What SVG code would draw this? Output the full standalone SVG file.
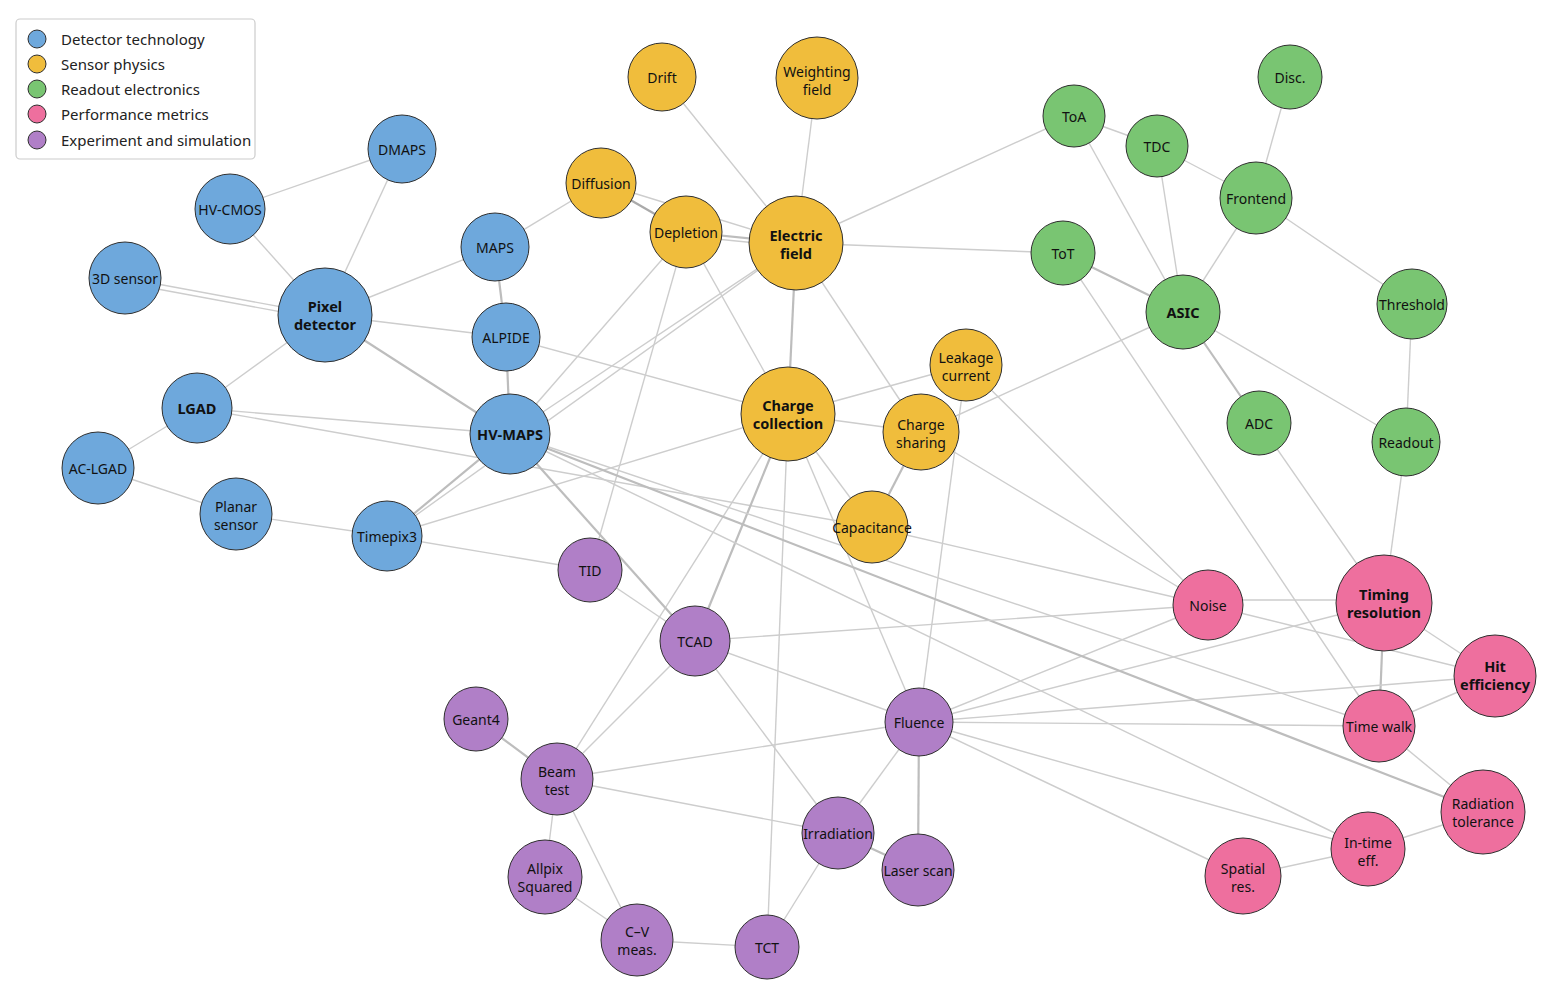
<svg xmlns="http://www.w3.org/2000/svg" width="1560" height="1008" viewBox="0 0 1560 1008">
<style>
.e{stroke:#cdcdcd;stroke-width:1.4;fill:none}
.s{stroke:#bdbdbd;stroke-width:2.2;fill:none}
.n{stroke:#2f2f2f;stroke-width:1}
.b{fill:#6ea8dc}.y{fill:#f0bd3c}.g{fill:#79c572}.p{fill:#ee6f9e}.v{fill:#b07fc7}
text{font-family:"Noto Sans","Open Sans","Liberation Sans",sans-serif;font-size:14px;fill:#111;text-anchor:middle;dominant-baseline:central}
.bo{font-weight:bold;font-size:14.5px}
.lg{font-size:15px;text-anchor:start;fill:#222}
</style>
<rect width="1560" height="1008" fill="#ffffff"/>
<g id="connectors">
<line class="e" x1="230" y1="209" x2="402" y2="149"/>
<line class="e" x1="230" y1="209" x2="325" y2="315"/>
<line class="e" x1="402" y1="149" x2="325" y2="315"/>
<line class="e" x1="125" y1="278" x2="325" y2="315"/>
<line class="e" x1="125" y1="283" x2="325" y2="320"/>
<line class="e" x1="325" y1="315" x2="495" y2="247"/>
<line class="e" x1="325" y1="315" x2="506" y2="337"/>
<line class="s" x1="325" y1="315" x2="510" y2="434"/>
<line class="e" x1="325" y1="315" x2="197" y2="408"/>
<line class="s" x1="495" y1="247" x2="506" y2="337"/>
<line class="s" x1="506" y1="337" x2="510" y2="434"/>
<line class="e" x1="495" y1="247" x2="601" y2="183"/>
<line class="e" x1="197" y1="408" x2="510" y2="434"/>
<line class="e" x1="197" y1="408" x2="98" y2="468"/>
<line class="e" x1="98" y1="468" x2="236" y2="514"/>
<line class="e" x1="236" y1="514" x2="387" y2="536"/>
<line class="s" x1="387" y1="536" x2="510" y2="434"/>
<line class="e" x1="387" y1="536" x2="788" y2="414"/>
<line class="e" x1="387" y1="536" x2="796" y2="243"/>
<line class="e" x1="387" y1="536" x2="590" y2="570"/>
<line class="e" x1="197" y1="408" x2="872" y2="527"/>
<line class="e" x1="662" y1="77" x2="796" y2="243"/>
<line class="e" x1="817" y1="78" x2="796" y2="243"/>
<line class="s" x1="601" y1="183" x2="686" y2="232" style="stroke:#aaa"/>
<line class="e" x1="601" y1="183" x2="796" y2="243"/>
<line class="s" x1="686" y1="232" x2="796" y2="243"/>
<line class="e" x1="686" y1="236" x2="796" y2="247"/>
<line class="e" x1="796" y1="243" x2="1074" y2="116"/>
<line class="e" x1="796" y1="243" x2="1063" y2="253"/>
<line class="s" x1="796" y1="243" x2="788" y2="414"/>
<line class="e" x1="796" y1="243" x2="921" y2="432"/>
<line class="e" x1="796" y1="243" x2="510" y2="434"/>
<line class="e" x1="686" y1="232" x2="510" y2="434"/>
<line class="e" x1="686" y1="232" x2="788" y2="414"/>
<line class="e" x1="686" y1="232" x2="590" y2="570"/>
<line class="e" x1="506" y1="337" x2="788" y2="414"/>
<line class="e" x1="788" y1="414" x2="966" y2="365"/>
<line class="e" x1="788" y1="414" x2="921" y2="432"/>
<line class="e" x1="788" y1="414" x2="872" y2="527"/>
<line class="s" x1="788" y1="414" x2="695" y2="641"/>
<line class="e" x1="788" y1="414" x2="557" y2="779"/>
<line class="e" x1="788" y1="414" x2="919" y2="722"/>
<line class="e" x1="788" y1="414" x2="767" y2="947"/>
<line class="s" x1="921" y1="432" x2="872" y2="527"/>
<line class="e" x1="921" y1="432" x2="1183" y2="312"/>
<line class="e" x1="921" y1="432" x2="1208" y2="605"/>
<line class="e" x1="966" y1="365" x2="1208" y2="605"/>
<line class="e" x1="966" y1="365" x2="919" y2="722"/>
<line class="e" x1="872" y1="527" x2="1208" y2="605"/>
<line class="e" x1="1074" y1="116" x2="1157" y2="146"/>
<line class="e" x1="1074" y1="116" x2="1183" y2="312"/>
<line class="e" x1="1157" y1="146" x2="1256" y2="198"/>
<line class="e" x1="1157" y1="146" x2="1183" y2="312"/>
<line class="e" x1="1290" y1="77" x2="1256" y2="198"/>
<line class="e" x1="1256" y1="198" x2="1183" y2="312"/>
<line class="e" x1="1256" y1="198" x2="1412" y2="304"/>
<line class="s" x1="1063" y1="253" x2="1183" y2="312"/>
<line class="e" x1="1063" y1="253" x2="1379" y2="726"/>
<line class="s" x1="1183" y1="312" x2="1259" y2="423"/>
<line class="e" x1="1183" y1="312" x2="1406" y2="442"/>
<line class="e" x1="1412" y1="304" x2="1406" y2="442"/>
<line class="e" x1="1406" y1="442" x2="1384" y2="603"/>
<line class="e" x1="1259" y1="423" x2="1384" y2="603"/>
<line class="e" x1="1208" y1="600" x2="1384" y2="600"/>
<line class="e" x1="1208" y1="605" x2="1495" y2="676"/>
<line class="s" x1="1384" y1="603" x2="1379" y2="726"/>
<line class="e" x1="1384" y1="603" x2="1495" y2="676"/>
<line class="e" x1="1379" y1="726" x2="1495" y2="676"/>
<line class="e" x1="1379" y1="726" x2="1483" y2="812"/>
<line class="e" x1="1483" y1="812" x2="1368" y2="849"/>
<line class="e" x1="1368" y1="849" x2="1243" y2="876"/>
<line class="e" x1="919" y1="722" x2="1379" y2="726"/>
<line class="e" x1="919" y1="722" x2="1495" y2="676"/>
<line class="e" x1="919" y1="722" x2="1384" y2="603"/>
<line class="e" x1="919" y1="722" x2="1208" y2="605"/>
<line class="e" x1="919" y1="722" x2="1368" y2="849"/>
<line class="e" x1="919" y1="722" x2="1243" y2="876"/>
<line class="e" x1="510" y1="434" x2="1368" y2="849"/>
<line class="e" x1="510" y1="434" x2="1379" y2="726"/>
<line class="s" x1="510" y1="434" x2="1483" y2="812"/>
<line class="s" x1="510" y1="434" x2="695" y2="641"/>
<line class="e" x1="695" y1="641" x2="590" y2="570"/>
<line class="e" x1="695" y1="641" x2="1208" y2="605"/>
<line class="e" x1="695" y1="641" x2="919" y2="722"/>
<line class="e" x1="695" y1="641" x2="838" y2="833"/>
<line class="e" x1="695" y1="641" x2="557" y2="779"/>
<line class="s" x1="476" y1="719" x2="557" y2="779"/>
<line class="e" x1="557" y1="779" x2="545" y2="877"/>
<line class="e" x1="557" y1="779" x2="637" y2="940"/>
<line class="e" x1="557" y1="779" x2="919" y2="722"/>
<line class="e" x1="557" y1="779" x2="838" y2="833"/>
<line class="e" x1="545" y1="877" x2="637" y2="940"/>
<line class="e" x1="637" y1="940" x2="767" y2="947"/>
<line class="e" x1="767" y1="947" x2="838" y2="833"/>
<line class="s" x1="838" y1="833" x2="918" y2="870"/>
<line class="e" x1="838" y1="833" x2="919" y2="722"/>
<line class="s" x1="919" y1="722" x2="918" y2="870"/>
</g>
<g id="legend">
<rect x="16" y="19" width="239" height="140" rx="4" fill="#fff" stroke="#cccccc" stroke-width="1.2"/>
<circle class="n b" cx="37" cy="39" r="9"/><text class="lg" x="61" y="39">Detector technology</text>
<circle class="n y" cx="37" cy="64" r="9"/><text class="lg" x="61" y="64">Sensor physics</text>
<circle class="n g" cx="37" cy="89" r="9"/><text class="lg" x="61" y="89">Readout electronics</text>
<circle class="n p" cx="37" cy="114" r="9"/><text class="lg" x="61" y="114">Performance metrics</text>
<circle class="n v" cx="37" cy="140" r="9"/><text class="lg" x="61" y="140">Experiment and simulation</text>
</g>
<g id="n-dmaps"><circle class="n b" cx="402" cy="149" r="34"/><text x="402" y="149">DMAPS</text></g>
<g id="n-hvcmos"><circle class="n b" cx="230" cy="209" r="35"/><text x="230" y="209">HV-CMOS</text></g>
<g id="n-3dsensor"><circle class="n b" cx="125" cy="278" r="36"/><text x="125" y="278">3D sensor</text></g>
<g id="n-pixel"><circle class="n b" cx="325" cy="315" r="47"/><text class="bo" x="325" y="306">Pixel</text><text class="bo" x="325" y="324">detector</text></g>
<g id="n-maps"><circle class="n b" cx="495" cy="247" r="34"/><text x="495" y="247">MAPS</text></g>
<g id="n-alpide"><circle class="n b" cx="506" cy="337" r="34"/><text x="506" y="337">ALPIDE</text></g>
<g id="n-lgad"><circle class="n b" cx="197" cy="408" r="35"/><text class="bo" x="197" y="408">LGAD</text></g>
<g id="n-hvmaps"><circle class="n b" cx="510" cy="434" r="40"/><text class="bo" x="510" y="434">HV-MAPS</text></g>
<g id="n-aclgad"><circle class="n b" cx="98" cy="468" r="36"/><text x="98" y="468">AC-LGAD</text></g>
<g id="n-planar"><circle class="n b" cx="236" cy="514" r="36"/><text x="236" y="506">Planar</text><text x="236" y="524">sensor</text></g>
<g id="n-timepix3"><circle class="n b" cx="387" cy="536" r="35"/><text x="387" y="536">Timepix3</text></g>
<g id="n-drift"><circle class="n y" cx="662" cy="77" r="34"/><text x="662" y="77">Drift</text></g>
<g id="n-weighting"><circle class="n y" cx="817" cy="78" r="41"/><text x="817" y="71">Weighting</text><text x="817" y="89">field</text></g>
<g id="n-diffusion"><circle class="n y" cx="601" cy="183" r="35"/><text x="601" y="183">Diffusion</text></g>
<g id="n-depletion"><circle class="n y" cx="686" cy="232" r="36"/><text x="686" y="232">Depletion</text></g>
<g id="n-efield"><circle class="n y" cx="796" cy="243" r="47"/><text class="bo" x="796" y="235">Electric</text><text class="bo" x="796" y="253">field</text></g>
<g id="n-chargecoll"><circle class="n y" cx="788" cy="414" r="47"/><text class="bo" x="788" y="405">Charge</text><text class="bo" x="788" y="423">collection</text></g>
<g id="n-leakage"><circle class="n y" cx="966" cy="365" r="36"/><text x="966" y="357">Leakage</text><text x="966" y="375">current</text></g>
<g id="n-chargeshare"><circle class="n y" cx="921" cy="432" r="38"/><text x="921" y="424">Charge</text><text x="921" y="442">sharing</text></g>
<g id="n-capacitance"><circle class="n y" cx="872" cy="527" r="36"/><text x="872" y="527">Capacitance</text></g>
<g id="n-toa"><circle class="n g" cx="1074" cy="116" r="31"/><text x="1074" y="116">ToA</text></g>
<g id="n-tdc"><circle class="n g" cx="1157" cy="146" r="31"/><text x="1157" y="146">TDC</text></g>
<g id="n-disc"><circle class="n g" cx="1290" cy="77" r="32"/><text x="1290" y="77">Disc.</text></g>
<g id="n-frontend"><circle class="n g" cx="1256" cy="198" r="36"/><text x="1256" y="198">Frontend</text></g>
<g id="n-tot"><circle class="n g" cx="1063" cy="253" r="32"/><text x="1063" y="253">ToT</text></g>
<g id="n-asic"><circle class="n g" cx="1183" cy="312" r="37"/><text class="bo" x="1183" y="312">ASIC</text></g>
<g id="n-threshold"><circle class="n g" cx="1412" cy="304" r="35"/><text x="1412" y="304">Threshold</text></g>
<g id="n-adc"><circle class="n g" cx="1259" cy="423" r="32"/><text x="1259" y="423">ADC</text></g>
<g id="n-readout"><circle class="n g" cx="1406" cy="442" r="34"/><text x="1406" y="442">Readout</text></g>
<g id="n-noise"><circle class="n p" cx="1208" cy="605" r="35"/><text x="1208" y="605">Noise</text></g>
<g id="n-timingres"><circle class="n p" cx="1384" cy="603" r="48"/><text class="bo" x="1384" y="594">Timing</text><text class="bo" x="1384" y="612">resolution</text></g>
<g id="n-hiteff"><circle class="n p" cx="1495" cy="676" r="41"/><text class="bo" x="1495" y="666">Hit</text><text class="bo" x="1495" y="684">efficiency</text></g>
<g id="n-timewalk"><circle class="n p" cx="1379" cy="726" r="36"/><text x="1379" y="726">Time walk</text></g>
<g id="n-radtol"><circle class="n p" cx="1483" cy="812" r="42"/><text x="1483" y="803">Radiation</text><text x="1483" y="821">tolerance</text></g>
<g id="n-intime"><circle class="n p" cx="1368" cy="849" r="37"/><text x="1368" y="842">In-time</text><text x="1368" y="860">eff.</text></g>
<g id="n-spatial"><circle class="n p" cx="1243" cy="876" r="38"/><text x="1243" y="868">Spatial</text><text x="1243" y="886">res.</text></g>
<g id="n-tid"><circle class="n v" cx="590" cy="570" r="32"/><text x="590" y="570">TID</text></g>
<g id="n-tcad"><circle class="n v" cx="695" cy="641" r="35"/><text x="695" y="641">TCAD</text></g>
<g id="n-geant4"><circle class="n v" cx="476" cy="719" r="32"/><text x="476" y="719">Geant4</text></g>
<g id="n-beamtest"><circle class="n v" cx="557" cy="779" r="36"/><text x="557" y="771">Beam</text><text x="557" y="789">test</text></g>
<g id="n-fluence"><circle class="n v" cx="919" cy="722" r="34"/><text x="919" y="722">Fluence</text></g>
<g id="n-irradiation"><circle class="n v" cx="838" cy="833" r="36"/><text x="838" y="833">Irradiation</text></g>
<g id="n-laserscan"><circle class="n v" cx="918" cy="870" r="36"/><text x="918" y="870">Laser scan</text></g>
<g id="n-allpix"><circle class="n v" cx="545" cy="877" r="37"/><text x="545" y="868">Allpix</text><text x="545" y="886">Squared</text></g>
<g id="n-cv"><circle class="n v" cx="637" cy="940" r="36"/><text x="637" y="931">C–V</text><text x="637" y="949">meas.</text></g>
<g id="n-tct"><circle class="n v" cx="767" cy="947" r="32"/><text x="767" y="947">TCT</text></g>
</svg>
